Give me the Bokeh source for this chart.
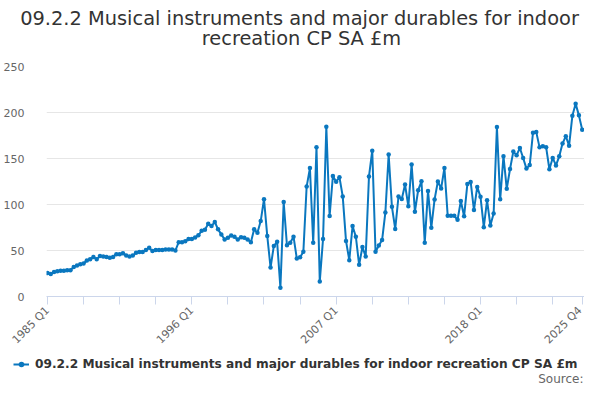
import math
from bokeh.plotting import figure
from bokeh.layouts import column, row
from bokeh.models import Range1d, FixedTicker, Legend, LegendItem, ColumnDataSource, Label
from bokeh.embed import file_html
from bokeh.resources import INLINE

# Quarterly values, 1985 Q1 .. 2025 Q4 (£m)
values = [
    25.5, 24.5, 26.5, 27.5, 28, 28, 28.5, 28.5, 32, 33.8,
    35, 36, 39, 40.5, 43, 40.5, 44, 43.5, 43, 42,
    43, 46, 46, 47, 44.5, 43.5, 44.5, 47.5, 48.5, 48.5,
    50.5, 53, 49.5, 50.5, 50.5, 50.5, 51, 51, 51, 50,
    59, 59, 60, 62.5, 62.5, 64, 66.5, 71.5, 72.5, 79,
    76.5, 81, 73, 67.5, 62, 63.8, 66.4, 65, 62, 64.5,
    63.8, 62, 59, 73, 69.4, 82, 105.8, 65.7, 31.4, 55,
    59.4, 9.5, 102.7, 55.6, 58.5, 65, 41.4, 42.6, 48.6, 119.5,
    139.6, 58.5, 162.3, 16.2, 62.5, 184.5, 87.5, 131, 124.8, 129.6,
    108.8, 60.4, 39.5, 76.6, 65, 34.4, 53.7, 43.5, 130.5, 158.5,
    48.6, 55.4, 61.4, 91.4, 154.4, 97.5, 73.4, 108.7, 106, 121.7,
    98, 143.6, 92.2, 115.6, 125.3, 58.5, 114.8, 74.8, 105.5, 125,
    117.5, 139.7, 87.7, 87.7, 87.7, 83.3, 103.8, 87.3, 122.4, 124.5,
    93.9, 119.1, 108.3, 75.4, 104.6, 77.2, 90.2, 184.2, 105.6, 152.5,
    117, 138.6, 157.5, 153.6, 161.4, 150.6, 139, 142.8, 178, 178.7,
    162.1, 163.2, 162.3, 138.3, 150.6, 142.5, 152.4, 166.2, 174.3, 163.9,
    196.4, 209.4, 196.9, 181.2,
]
quarter_index = list(range(len(values)))

tick_positions = [0, 11, 22, 33, 44, 55, 66, 77, 88, 99, 110, 121, 132, 143, 154, 163]
tick_labels = {0: "1985 Q1", 44: "1996 Q1", 88: "2007 Q1", 132: "2018 Q1", 163: "2025 Q4"}
y_ticks = [0, 50, 100, 150, 200, 250]

series_name = "09.2.2 Musical instruments and major durables for indoor recreation CP SA £m"
title_line1 = "09.2.2 Musical instruments and major durables for indoor"
title_line2 = "recreation CP SA £m"
source_text = "Source:"

FONT = "DejaVu Sans"
BLUE = "#0a77bf"
W = 584
FRAME_LEFT = 46


def strip(height):
    f = figure(width=W, height=height, x_range=Range1d(-2, -1), y_range=Range1d(-2, -1),
               x_axis_type=None, y_axis_type=None, output_backend="svg",
               toolbar_location=None, min_border=0)
    f.outline_line_color = None
    return f


src = ColumnDataSource(dict(x=quarter_index, y=values))

# title strip
tq = strip(58)
for txt, cx, cy in ((title_line1, 299, 40), (title_line2, 301, 20)):
    tq.add_layout(Label(x=cx, y=cy, x_units="screen", y_units="screen", text=txt,
                        text_align="center", text_baseline="middle", text_font=FONT,
                        text_font_size="19.4px", text_color="#333333"))

# main chart
p = figure(width=W, height=296, x_range=Range1d(-0.3, 163.7), y_range=Range1d(0, 250),
           output_backend="svg", toolbar_location=None,
           min_border_left=FRAME_LEFT, min_border_right=0, min_border_top=8, min_border_bottom=57)

ln = p.line("x", "y", source=src, line_color=BLUE, line_width=2)
sc = p.scatter("x", "y", source=src, size=4.5, fill_color=BLUE, line_color=None)

p.outline_line_color = None
p.xgrid.visible = False
p.ygrid.grid_line_color = "#e6e6e6"
p.ygrid.ticker = FixedTicker(ticks=y_ticks)

xa = p.xaxis[0]
xa.ticker = FixedTicker(ticks=tick_positions)
xa.major_label_overrides = {t: tick_labels.get(t, "") for t in tick_positions}
xa.major_label_orientation = math.pi / 4
xa.axis_line_color = "#ccd6eb"
xa.major_tick_line_color = "#ccd6eb"
xa.major_tick_in = 0
xa.major_tick_out = 8
xa.minor_tick_line_color = None
xa.major_label_standoff = 4
xa.major_label_text_font = FONT
xa.major_label_text_font_size = "11px"
xa.major_label_text_color = "#666666"

ya = p.yaxis[0]
ya.ticker = FixedTicker(ticks=y_ticks)
ya.axis_line_color = None
ya.major_tick_line_color = None
ya.minor_tick_line_color = None
ya.major_label_text_font = FONT
ya.major_label_text_font_size = "11px"
ya.major_label_text_color = "#666666"
ya.major_label_standoff = 16

# legend strip below the chart (its ranges hold none of the data, so only the legend shows)
q = strip(30)
lq = q.line("x", "y", source=src, line_color=BLUE, line_width=2)
sq = q.scatter("x", "y", source=src, size=4.5, fill_color=BLUE, line_color=None)

legend = Legend(items=[LegendItem(label=series_name, renderers=[lq, sq])],
                location=(13, 13), orientation="horizontal",
                border_line_color=None, background_fill_alpha=0,
                label_text_font=FONT, label_text_font_size="12.2px",
                label_text_font_style="bold", label_text_color="#333333",
                glyph_width=16, glyph_height=14, label_height=14,
                padding=0, margin=0, label_standoff=6)
q.add_layout(legend)

q.add_layout(Label(x=583, y=6, x_units="screen", y_units="screen", text=source_text,
                   text_align="right", text_baseline="middle", text_font=FONT,
                   text_font_size="12px", text_color="#666666"))

layout = column(row(tq), p, row(q), spacing=0)
open("out.html", "w").write(file_html(layout, INLINE))
